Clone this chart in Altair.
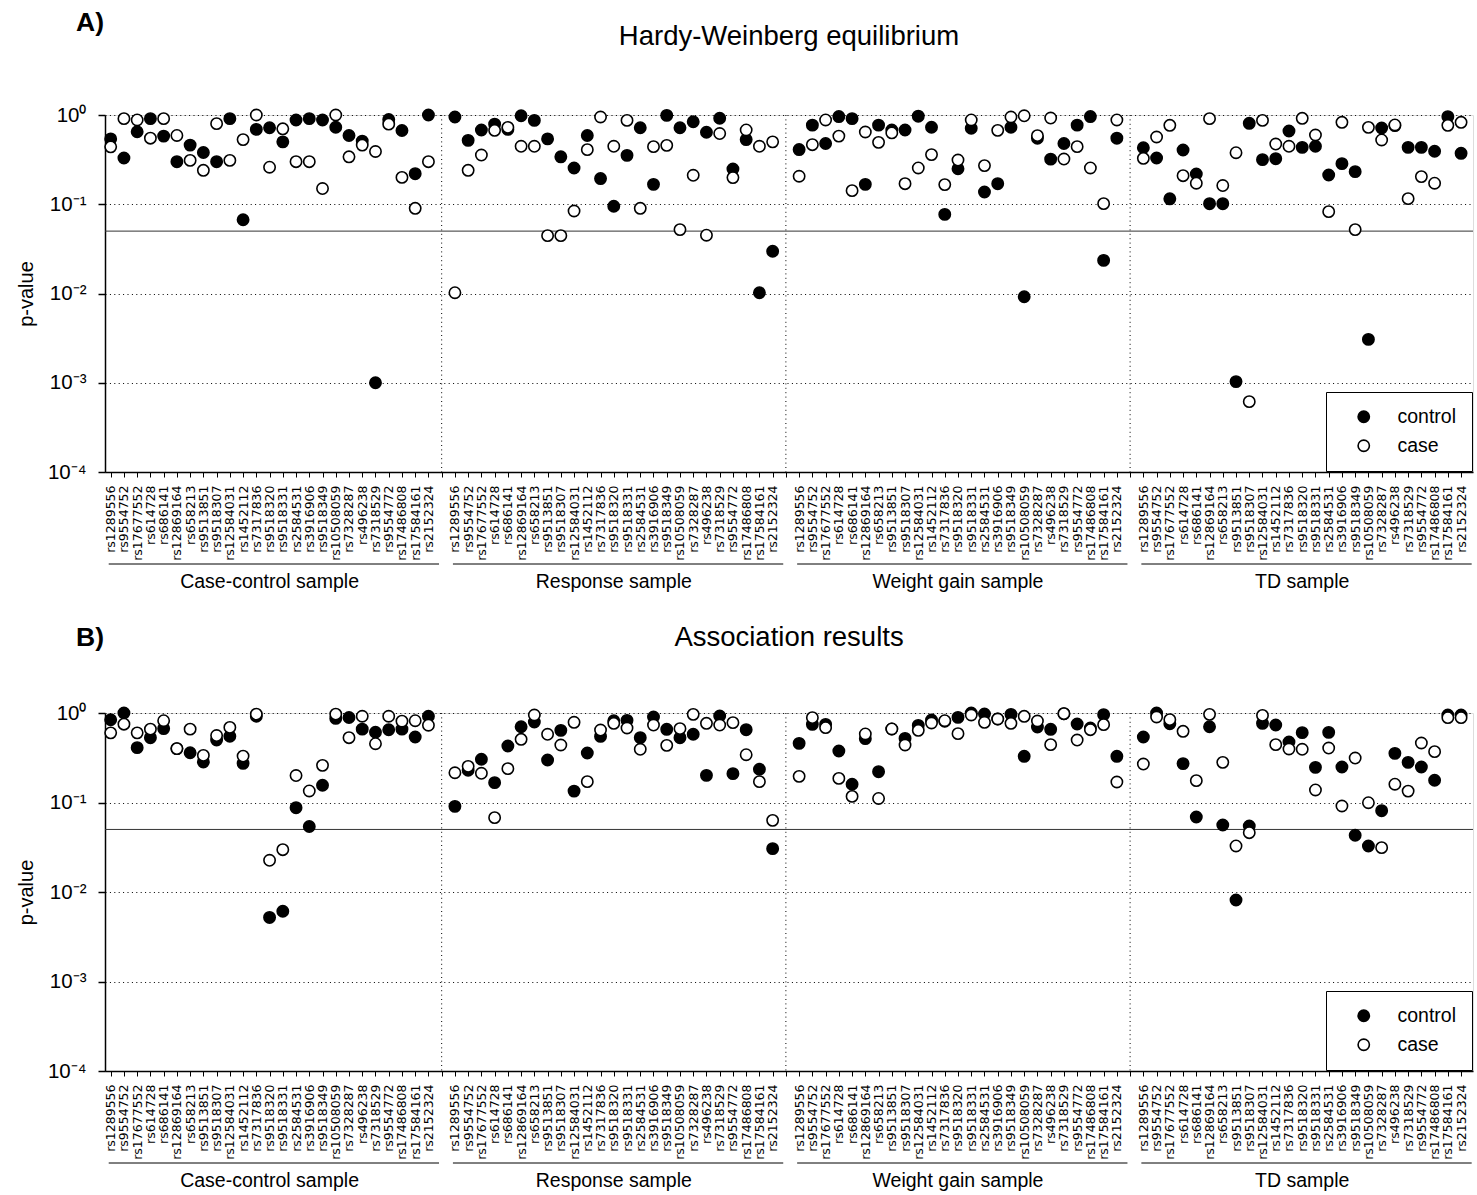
import json
import altair as alt
import pandas as pd

snps = ["rs1289556", "rs9554752", "rs17677552", "rs614728", "rs686141", "rs12869164",
        "rs658213", "rs9513851", "rs9518307", "rs12584031", "rs1452112", "rs7317836",
        "rs9518320", "rs9518331", "rs2584531", "rs3916906", "rs9518349", "rs10508059",
        "rs7328287", "rs496238", "rs7318529", "rs9554772", "rs17486808", "rs17584161",
        "rs2152324"]
groups = ["Case-control sample", "Response sample", "Weight gain sample", "TD sample"]
series = ["control", "case"]
y_tick_labels = ["10\u2070", "10\u207b\u00b9", "10\u207b\u00b2", "10\u207b\u00b3", "10\u207b\u2074"]

# Panel A: Hardy-Weinberg equilibrium p-values
cc_hwe_control = [0.54, 0.33, 0.65, 0.91, 0.58, 0.30, 0.46, 0.38, 0.30, 0.91, 0.067, 0.69, 0.72,
                  0.50, 0.88, 0.91, 0.88, 0.73, 0.59, 0.51, 0.001, 0.89, 0.67, 0.22, 1.0]
cc_hwe_case = [0.44, 0.91, 0.88, 0.55, 0.91, 0.59, 0.31, 0.24, 0.80, 0.31, 0.53, 1.0, 0.26,
               0.70, 0.30, 0.30, 0.15, 1.0, 0.34, 0.46, 0.39, 0.79, 0.20, 0.09, 0.30]
resp_hwe_control = [0.95, 0.52, 0.68, 0.79, 0.69, 0.98, 0.87, 0.54, 0.34, 0.255, 0.59, 0.194, 0.095,
                    0.353, 0.72, 0.167, 0.99, 0.72, 0.84, 0.64, 0.92, 0.248, 0.53, 0.0102, 0.0297]
resp_hwe_case = [0.0102, 0.24, 0.356, 0.673, 0.727, 0.446, 0.446, 0.0445, 0.0445, 0.084, 0.409, 0.95,
                 0.446, 0.87, 0.09, 0.442, 0.457, 0.052, 0.211, 0.045, 0.62, 0.199, 0.68, 0.446, 0.50]
wg_hwe_control = [0.41, 0.77, 0.48, 0.96, 0.91, 0.167, 0.77, 0.68, 0.68, 0.97, 0.73, 0.077, 0.25,
                  0.71, 0.137, 0.17, 0.73, 0.0092, 0.55, 0.32, 0.48, 0.77, 0.96, 0.0235, 0.55]
wg_hwe_case = [0.206, 0.465, 0.88, 0.58, 0.142, 0.645, 0.494, 0.63, 0.17, 0.255, 0.36, 0.166, 0.313,
               0.88, 0.271, 0.673, 0.95, 0.98, 0.587, 0.925, 0.321, 0.442, 0.255, 0.1016, 0.88]
td_hwe_control = [0.43, 0.33, 0.115, 0.405, 0.218, 0.1015, 0.1015, 0.00103, 0.807, 0.316, 0.324, 0.662,
                  0.434, 0.446, 0.213, 0.285, 0.232, 0.00306, 0.715, 0.76, 0.434, 0.434, 0.392, 0.958, 0.372]
td_hwe_case = [0.327, 0.567, 0.766, 0.209, 0.172, 0.91, 0.162, 0.378, 0.000614, 0.87, 0.473, 0.446,
               0.918, 0.597, 0.0826, 0.828, 0.052, 0.727, 0.525, 0.773, 0.1155, 0.204, 0.172, 0.766, 0.828]

# Panel B: Association results p-values
cc_assoc_control = [0.84, 1.0, 0.41, 0.53, 0.67, 0.40, 0.36, 0.284, 0.50, 0.55, 0.274, 0.92, 0.0052,
                    0.0061, 0.0875, 0.054, 0.156, 0.87, 0.89, 0.66, 0.61, 0.65, 0.66, 0.54, 0.92]
cc_assoc_case = [0.60, 0.75, 0.60, 0.66, 0.82, 0.40, 0.66, 0.336, 0.56, 0.69, 0.33, 0.97, 0.0226,
                 0.0297, 0.20, 0.1345, 0.26, 0.97, 0.53, 0.92, 0.454, 0.92, 0.81, 0.82, 0.73]
resp_assoc_control = [0.0906, 0.229, 0.304, 0.1666, 0.428, 0.703, 0.793, 0.2985, 0.64, 0.134, 0.357,
                      0.548, 0.82, 0.828, 0.53, 0.902, 0.657, 0.53, 0.578, 0.201, 0.926, 0.21, 0.651,
                      0.235, 0.0305]
resp_assoc_case = [0.215, 0.2535, 0.212, 0.0677, 0.239, 0.508, 0.95, 0.578, 0.439, 0.787, 0.171, 0.645,
                   0.767, 0.68, 0.393, 0.734, 0.435, 0.668, 0.966, 0.767, 0.734, 0.78, 0.342, 0.171, 0.0632]
wg_assoc_control = [0.458, 0.747, 0.747, 0.376, 0.16, 0.517, 0.221, 0.663, 0.52, 0.728, 0.835, 0.81,
                    0.894, 1.0, 0.975, 0.857, 0.966, 0.328, 0.698, 0.657, 0.983, 0.754, 0.68, 0.958, 0.328]
wg_assoc_case = [0.196, 0.887, 0.686, 0.186, 0.117, 0.583, 0.111, 0.663, 0.439, 0.64, 0.773, 0.82,
                 0.588, 0.95, 0.787, 0.857, 0.767, 0.918, 0.814, 0.443, 0.983, 0.499, 0.651, 0.741, 0.1695]
td_assoc_control = [0.539, 1.0, 0.76, 0.272, 0.0689, 0.703, 0.0561, 0.00814, 0.0546, 0.767, 0.734,
                    0.474, 0.603, 0.247, 0.608, 0.249, 0.043, 0.0327, 0.081, 0.354, 0.281, 0.249,
                    0.177, 0.95, 0.95]
td_assoc_case = [0.269, 0.902, 0.842, 0.624, 0.1755, 0.966, 0.281, 0.0327, 0.046, 0.94, 0.443, 0.396,
                 0.393, 0.138, 0.406, 0.0914, 0.314, 0.0995, 0.0313, 0.16, 0.134, 0.462, 0.37, 0.887, 0.887]

hwe = [(cc_hwe_control, cc_hwe_case), (resp_hwe_control, resp_hwe_case),
       (wg_hwe_control, wg_hwe_case), (td_hwe_control, td_hwe_case)]
assoc = [(cc_assoc_control, cc_assoc_case), (resp_assoc_control, resp_assoc_case),
         (wg_assoc_control, wg_assoc_case), (td_assoc_control, td_assoc_case)]

SLOTS = 26          # 25 SNPs + 1 gap slot per sample group
N_SLOTS = 4 * SLOTS - 1
W = 1368
FONT = "Liberation Sans"
PT_SIZE = 128

slot_labels = [snps[s % SLOTS] if s % SLOTS < len(snps) else "" for s in range(N_SLOTS)]


def points_df(data):
    rows = []
    for k, name in enumerate(series):
        for g, pair in enumerate(data):
            for i, p in enumerate(pair[k]):
                rows.append({"slot": g * SLOTS + i, "snp": snps[i], "group": groups[g],
                             "series": name, "p": p})
    return pd.DataFrame(rows)


group_df = pd.DataFrame({
    "slot": [g * SLOTS + 12 for g in range(4)],
    "start": [g * SLOTS - 0.15 for g in range(4)],
    "end": [g * SLOTS + 24.8 for g in range(4)],
    "name": groups,
})
sep_df = pd.DataFrame({"slot": [g * SLOTS + 25 for g in range(3)]})
thr_df = pd.DataFrame({"p": [0.05]})


def panel(data, letter, title, H, letter_y, title_y, anchor=False):
    xs = alt.Scale(domain=[-0.43, 102.9], nice=False, zero=False)
    xaxis = alt.Axis(values=list(range(N_SLOTS)), labelExpr=json.dumps(slot_labels) + "[datum.value]",
                     title=None, grid=False, labelAngle=270, labelAlign="right", labelBaseline="middle",
                     labelFont="DejaVu Sans", labelFontSize=12.5, labelColor="black", labelPadding=8,
                     labelOverlap=False, labelFlush=False, labelBound=False,
                     tickSize=5, tickColor="black", tickWidth=1,
                     domainColor="black", domainWidth=1.5)
    ys = alt.Scale(type="log", domain=[0.0001, 1], nice=False)
    yaxis = alt.Axis(values=[1, 0.1, 0.01, 0.001, 0.0001],
                     labelExpr=json.dumps(y_tick_labels) + "[round(-log(datum.value)/LN10)]",
                     labelFont=FONT, labelFontSize=20.5, labelColor="black", labelPadding=12,
                     labelOverlap=False, labelFlush=False,
                     tickSize=7, tickColor="black", tickWidth=1.5,
                     domainColor="black", domainWidth=1.5,
                     grid=True, gridDash=[1, 3.4], gridColor="black", gridWidth=1, gridOpacity=1,
                     title="p-value", titleFont=FONT, titleFontSize=20, titleFontWeight="normal",
                     titleColor="black", titleX=-72.5, titleY=H / 2, titleAngle=270,
                     titleBaseline="alphabetic", titleAlign="center")
    X = lambda: alt.X("slot:Q", scale=xs, axis=xaxis)
    Y = lambda: alt.Y("p:Q", scale=ys, axis=yaxis)

    seps = alt.Chart(sep_df).mark_rule(color="black", strokeWidth=1, strokeDash=[1, 3.4]).encode(x=X())
    thr = alt.Chart(thr_df).mark_rule(color="#333333", strokeWidth=1).encode(y=Y())
    pts = alt.Chart(points_df(data)).mark_circle(size=PT_SIZE, stroke="black", strokeWidth=1.6,
                                                 opacity=1).encode(
        x=X(), y=Y(),
        fill=alt.Fill("series:N", scale=alt.Scale(domain=series, range=["black", "white"]),
                      legend=alt.Legend(title=None, orient="bottom-right", offset=1, padding=15,
                                        strokeColor="black", fillColor="white", cornerRadius=0,
                                        symbolType="circle", symbolSize=PT_SIZE, symbolStrokeColor="black",
                                        symbolStrokeWidth=1.6, symbolOffset=13, labelOffset=24,
                                        labelFont=FONT, labelFontSize=19.5, labelColor="black",
                                        rowPadding=8)),
    )
    grule = alt.Chart(group_df).mark_rule(color="black", strokeWidth=1).encode(
        x=alt.X("start:Q", scale=xs, axis=xaxis), x2="end:Q", y=alt.value(H + 92))
    gtext = alt.Chart(group_df).mark_text(font=FONT, fontSize=19.5, baseline="alphabetic",
                                          align="center", color="black").encode(
        x=X(), y=alt.value(H + 116), text="name:N")
    ttl = alt.Chart(pd.DataFrame({"t": [title]})).mark_text(
        font=FONT, fontSize=27.5, baseline="alphabetic", align="center", color="black").encode(
        x=alt.value(W / 2), y=alt.value(title_y), text="t:N")
    let = alt.Chart(pd.DataFrame({"t": [letter]})).mark_text(
        font=FONT, fontSize=26.5, fontWeight="bold", baseline="alphabetic", align="left",
        color="black").encode(x=alt.value(-29), y=alt.value(letter_y), text="t:N")
    layers = [seps, thr, pts, grule, gtext, ttl, let]
    if anchor:
        layers.append(alt.Chart(thr_df).mark_rule(color="white", strokeWidth=1).encode(
            x=alt.value(-103.5), y=alt.value(-113.5), y2=alt.value(-112)))
    return alt.layer(*layers).properties(width=W, height=H)


a = panel(hwe, "A)", "Hardy-Weinberg equilibrium", 357, -84, -70, anchor=True)
b = panel(assoc, "B)", "Association results", 358, -67, -67)

chart = alt.vconcat(a, b, spacing=241, bounds="flush").resolve_scale(
    fill="independent", x="independent", y="independent").resolve_legend(
    fill="independent").properties(padding=0).configure_view(stroke=None).configure(font=FONT)

chart.save("out.html", embed_options={"renderer": "svg", "actions": False})
